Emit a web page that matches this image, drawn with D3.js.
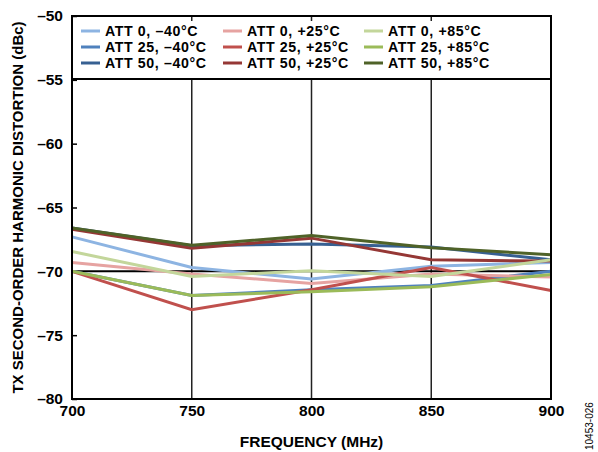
<!DOCTYPE html>
<html><head><meta charset="utf-8">
<script src="https://cdn.jsdelivr.net/npm/d3@7"></script>
<style>body{margin:0;background:#fff}svg{display:block}text{font-family:"Liberation Sans",Arial,sans-serif}</style>
</head><body><svg id="c" width="598" height="452"></svg>
<script>
const frequencies = [700, 750, 800, 850, 900];
const seriesNames = ["ATT 0, –40°C","ATT 25, –40°C","ATT 50, –40°C","ATT 0, +25°C","ATT 25, +25°C","ATT 50, +25°C","ATT 0, +85°C","ATT 25, +85°C","ATT 50, +85°C"];
const att0m40  = [-67.3, -69.7, -70.6, -69.6, -69.3];
const att25m40 = [-70.0, -71.9, -71.45, -71.1, -70.0];
const att50m40 = [-66.6, -68.0, -67.85, -68.1, -69.1];
const att0p25  = [-69.3, -70.2, -70.95, -70.2, -70.45];
const att25p25 = [-70.0, -73.0, -71.45, -69.7, -71.5];
const att50p25 = [-66.7, -68.2, -67.4, -69.1, -69.2];
const att0p85  = [-68.45, -70.4, -69.95, -70.4, -69.1];
const att25p85 = [-70.0, -71.9, -71.6, -71.2, -70.25];
const att50p85 = [-66.6, -67.95, -67.2, -68.15, -68.7];
const seriesValues = [att0m40, att25m40, att50m40, att0p25, att25p25, att50p25, att0p85, att25p85, att50p85];
const colors = ["#8db4e2","#4f81bd","#376092","#e6a3a1","#c0504d","#953735","#c3d69b","#9bbb59","#4f6228"];
const yTicks = [-50, -55, -60, -65, -70, -75, -80];
const xTicks = [700, 750, 800, 850, 900];

const svg = d3.select("#c");
const L = 72, R = 551, T = 16, B = 399;
const x = d3.scaleLinear().domain([700, 900]).range([L, R]);
const y = d3.scaleLinear().domain([-80, -50]).range([B, T]);
const fmt = v => String(v).replace("-", "–");
const FS = 15.5;

// vertical gridlines
svg.append("g").selectAll("line").data(xTicks.slice(1, -1)).join("line")
  .attr("x1", d => x(d)).attr("x2", d => x(d)).attr("y1", T).attr("y2", B)
  .attr("stroke", "#222").attr("stroke-width", 1.5);

// horizontal axis line at -70
svg.append("line").attr("x1", L).attr("x2", R).attr("y1", y(-70)).attr("y2", y(-70))
  .attr("stroke", "#000").attr("stroke-width", 2);

// y axis with inner ticks
const yAxis = d3.axisLeft(y).tickValues(yTicks).tickSize(-5).tickPadding(9).tickFormat(fmt);
const ya = svg.append("g").attr("transform", `translate(${L},0)`).call(yAxis);
ya.select(".domain").remove();
ya.selectAll("line").attr("stroke", "#000").attr("stroke-width", 1.5);
ya.selectAll("text").attr("font-size", FS).attr("font-weight", "bold").attr("fill", "#000")
  .attr("font-family", "'Liberation Sans',Arial,sans-serif");

// x axis labels
const xAxis = d3.axisBottom(x).tickValues(xTicks).tickSize(0).tickPadding(6).tickFormat(d => d);
const xa = svg.append("g").attr("transform", `translate(0,${B})`).call(xAxis);
xa.select(".domain").remove();
xa.selectAll("text").attr("font-size", FS).attr("font-weight", "bold").attr("fill", "#000")
  .attr("font-family", "'Liberation Sans',Arial,sans-serif");

// lines
const line = d3.line().x((d, i) => x(frequencies[i])).y(d => y(d));
svg.append("g").selectAll("path").data(seriesValues).join("path")
  .attr("d", line).attr("fill", "none")
  .attr("stroke", (d, i) => colors[i]).attr("stroke-width", 3)
  .attr("stroke-linejoin", "miter");

// legend
svg.append("rect").attr("x", L + 2).attr("y", T + 5).attr("width", R - L - 4).attr("height", 57).attr("fill", "#fff");
svg.append("line").attr("x1", L).attr("x2", R).attr("y1", 79).attr("y2", 79).attr("stroke", "#000").attr("stroke-width", 2);
const colX = [81, 223, 364];
const rowY = [31, 47, 63];
const lg = svg.append("g").selectAll("g").data(seriesNames).join("g")
  .attr("transform", (d, i) => `translate(${colX[Math.floor(i / 3)]},${rowY[i % 3]})`);
lg.append("line").attr("x1", 0).attr("x2", 19).attr("y1", 0).attr("y2", 0)
  .attr("stroke", (d, i) => colors[i]).attr("stroke-width", 3);
lg.append("text").attr("x", 24).attr("y", 0).attr("dy", "0.36em").text(d => d)
  .attr("font-size", 14.2).attr("letter-spacing", 0.6).attr("font-weight", "bold").attr("fill", "#000");

// frame
svg.append("rect").attr("x", L).attr("y", T).attr("width", R - L).attr("height", B - T)
  .attr("fill", "none").attr("stroke", "#000").attr("stroke-width", 2);

// titles
svg.append("text").attr("x", (L + R) / 2).attr("y", 447).attr("text-anchor", "middle")
  .attr("font-size", FS).attr("font-weight", "bold").text("FREQUENCY (MHz)");
svg.append("text").attr("transform", `translate(23,${(T + B) / 2}) rotate(-90)`).attr("text-anchor", "middle")
  .attr("font-size", 15).attr("font-weight", "bold").text("TX SECOND-ORDER HARMONIC DISTORTION (dBc)");
svg.append("text").attr("transform", `translate(593,450) rotate(-90)`).attr("text-anchor", "start")
  .attr("font-size", 10).text("10453-026");
</script></body></html>
